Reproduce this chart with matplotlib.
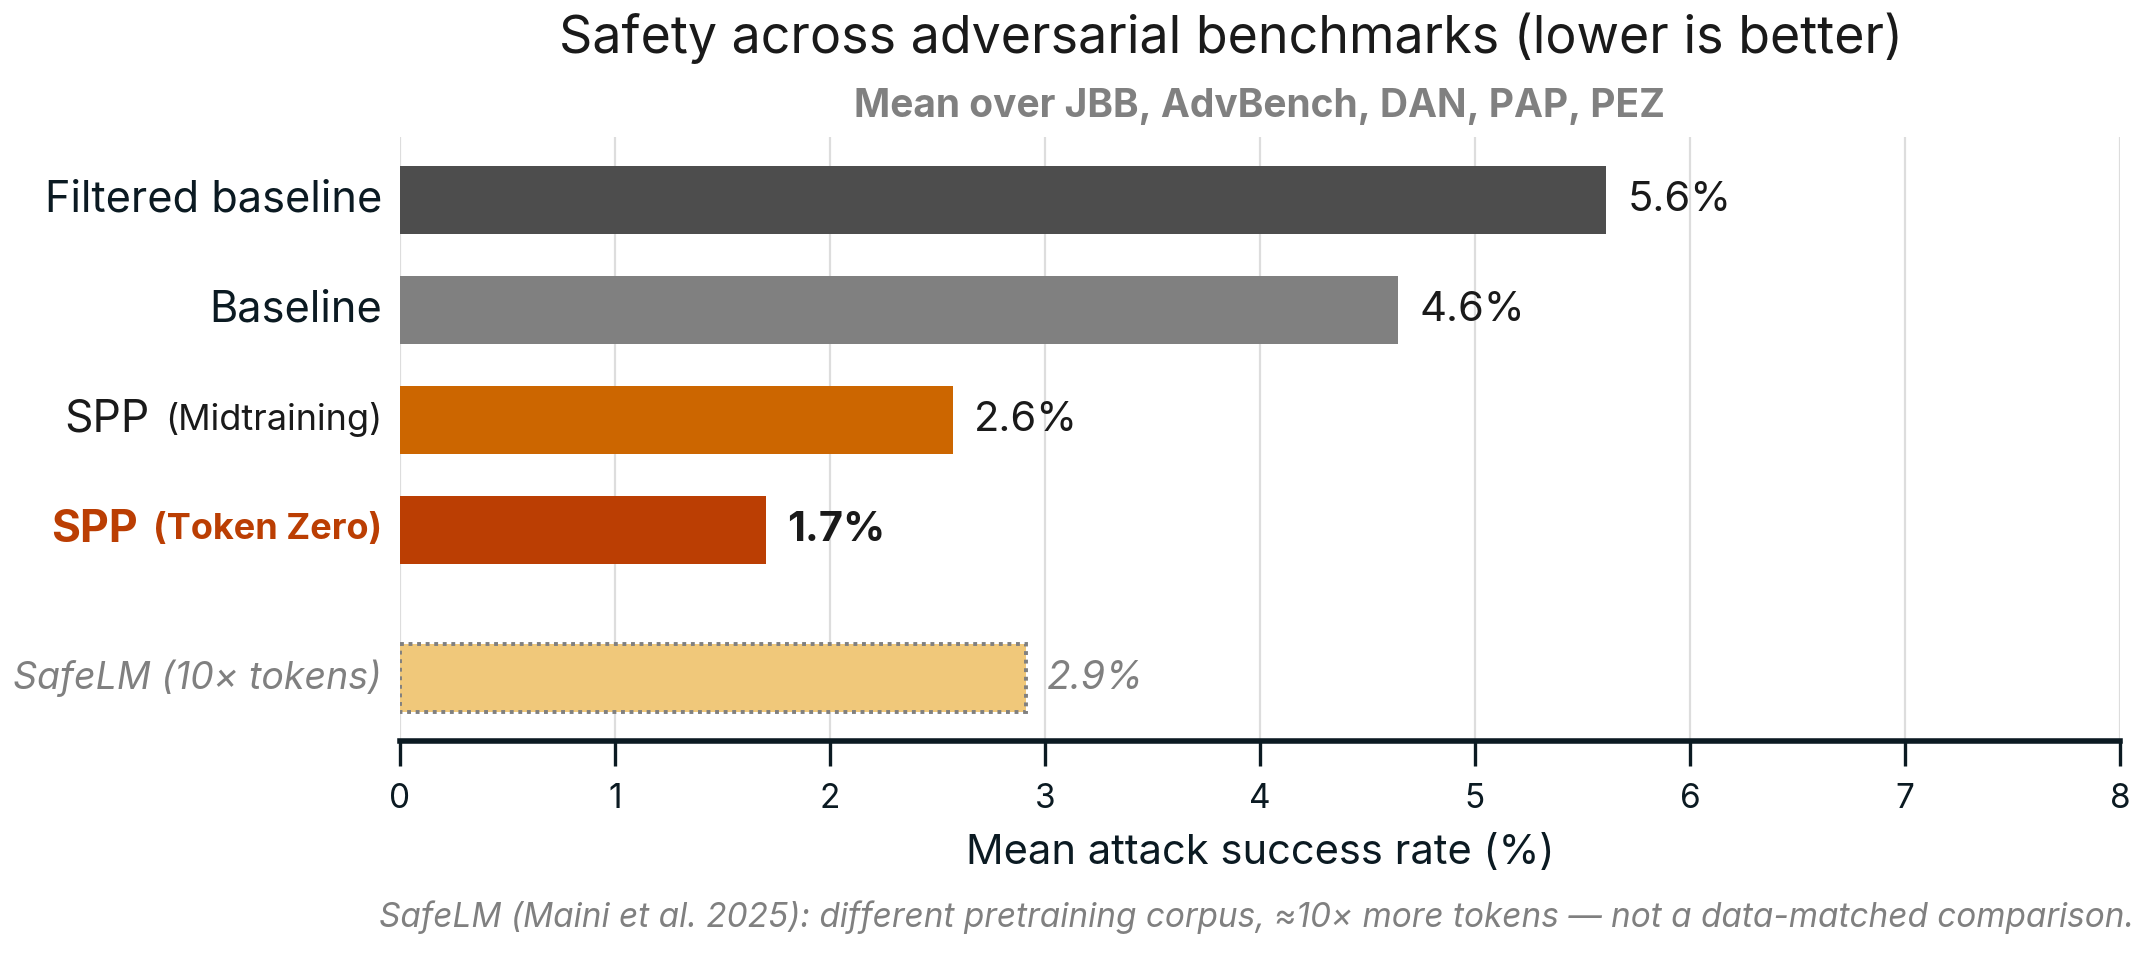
import matplotlib
matplotlib.use("Agg")
import matplotlib.pyplot as plt
from matplotlib.transforms import blended_transform_factory, offset_copy

plt.rcParams['font.family'] = ['Inter', 'DejaVu Sans']

# data
names_main = ["Filtered baseline", "Baseline", "SPP", "SPP", "SafeLM (10× tokens)"]
names_sub = ["", "", "(Midtraining)", "(Token Zero)", ""]
values = [5.61, 4.64, 2.57, 1.70, 2.91]
positions = [0, 1, 2, 3, 4.35]
colors = ["#4d4d4d", "#808080", "#cc6600", "#bb3e03", "#f0c87a"]
label_colors = ["#0b1a22", "#0b1a22", "#1a1a1a", "#bb3e03", "#808080"]
label_weights = ["normal", "normal", "normal", "bold", "normal"]
label_styles = ["normal", "normal", "normal", "normal", "italic"]
xticks = [0, 1, 2, 3, 4, 5, 6, 7, 8]

fig = plt.figure(figsize=(10.76, 4.775), dpi=200)
ax = fig.add_axes([0.1859, 0.2241, 0.7992, 0.6324])

ax.grid(axis="x", color="#dddddd", linewidth=0.8, zorder=0)
ax.set_axisbelow(True)

bars = ax.barh(positions, values, height=0.62, color=colors, zorder=2)
# SafeLM bar: dotted outline
bars[4].set_edgecolor("#808080")
bars[4].set_linestyle((0, (1, 1.2)))
bars[4].set_linewidth(1.4)

ax.set_xlim(0, 8)
ax.set_ylim(4.92, -0.57)
ax.set_xticks(xticks)
ax.set_xticklabels([str(t) for t in xticks], fontsize=12)
ax.set_yticks([])
for s in ["top", "right", "left"]:
    ax.spines[s].set_visible(False)
ax.spines["bottom"].set_linewidth(2)
ax.spines["bottom"].set_color("#0b1a22")
ax.tick_params(axis="x", length=9, width=1.2, color="#0b1a22", labelcolor="#0b1a22", pad=6)
ax.set_xlabel("Mean attack success rate (%)", fontsize=15, color="#0b1a22", labelpad=7)

# value labels
for i, v in enumerate(values):
    if i == 3:
        kw = dict(fontweight="bold", color="#1a1a1a")
    elif i == 4:
        kw = dict(fontstyle="italic", color="#808080", fontsize=14)
    else:
        kw = dict(color="#1a1a1a")
    kw.setdefault("fontsize", 15)
    ax.text(v + 0.1, positions[i], f"{v:.1f}%", va="center", ha="left", **kw)

# category labels (drawn by hand so two sizes can be mixed)
trans = blended_transform_factory(ax.transAxes, ax.transData)
fig.canvas.draw()
renderer = fig.canvas.get_renderer()
pad = -6.5
for i, p in enumerate(positions):
    base = offset_copy(trans, fig=fig, x=pad, y=0, units="points")
    size = 15.6 if i < 2 else (16 if i < 4 else 13.5)
    if names_sub[i]:
        t2 = ax.text(0, p, names_sub[i], transform=base, ha="right", va="center",
                     fontsize=13, color=label_colors[i], fontweight=label_weights[i])
        w = t2.get_window_extent(renderer).width * 72 / fig.dpi
        base = offset_copy(trans, fig=fig, x=pad - w - 5.5, y=0, units="points")
    ax.text(0, p, names_main[i], transform=base, ha="right", va="center",
            fontsize=size, color=label_colors[i], fontweight=label_weights[i],
            fontstyle=label_styles[i])

fig.text(0.572, 0.96, "Safety across adversarial benchmarks (lower is better)",
         ha="center", va="center", fontsize=18.7, color="#1a1a1a")
fig.text(0.5855, 0.888, "Mean over JBB, AdvBench, DAN, PAP, PEZ",
         ha="center", va="center", fontsize=14, fontweight="bold", color="#808080")
fig.text(0.9915, 0.04, "SafeLM (Maini et al. 2025): different pretraining corpus, \u224810\u00d7 more tokens \u2014 not a data-matched comparison.",
         ha="right", va="center", fontsize=12, fontstyle="italic", color="#808080")

fig.savefig("out.png", dpi=200)
